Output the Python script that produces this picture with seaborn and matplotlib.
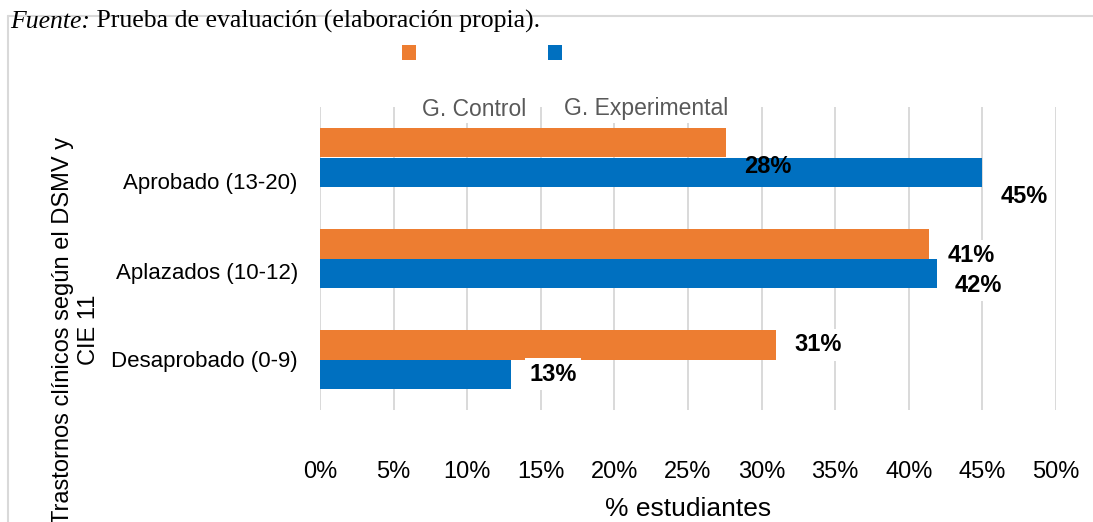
import matplotlib
matplotlib.use("Agg")
import matplotlib.pyplot as plt
from matplotlib.lines import Line2D
from matplotlib.patches import Patch
import seaborn as sns
import pandas as pd
import numpy as np

# ---- data ----
categories = ["Aprobado (13-20)", "Aplazados (10-12)", "Desaprobado (0-9)"]
groups = ["G. Control", "G. Experimental"]
control = [27.6, 41.4, 31.0]
experimental = [45.0, 41.9, 13.0]
x_ticks = [0, 5, 10, 15, 20, 25, 30, 35, 40, 45, 50]
x_tick_labels = [f"{t}%" for t in x_ticks]
x_title = "% estudiantes"
y_title = "Trastornos clínicos según el DSMV y\nCIE 11"
source_italic = "Fuente:"
source_rest = " Prueba de evaluación (elaboración propia)."

# ---- layout / style ----
W, H, DPI = 1093, 522, 100
colors = ["#ED7D31", "#0070C0"]
grid_color = "#D9D9D9"
cat_shift_px = [24, 12, 0]          # vertical displacement of labels per category
label_box = [[False, True], [True, True], [True, True]]

sns.set_style("white")
plt.rcParams["font.family"] = ["Liberation Sans", "DejaVu Sans"]
plt.rcParams["text.color"] = "black"
plt.rcParams["axes.labelcolor"] = "black"
plt.rcParams["xtick.color"] = "black"
plt.rcParams["ytick.color"] = "black"

df = pd.DataFrame({
    "cat": categories * 2,
    "val": control + experimental,
    "grupo": [groups[0]] * 3 + [groups[1]] * 3,
})

fig = plt.figure(figsize=(W / DPI, H / DPI), dpi=DPI)
ax_left, ax_right, ax_top, ax_bottom = 320, 1056, 107, 410
ax = fig.add_axes([ax_left / W, 1 - ax_bottom / H,
                   (ax_right - ax_left) / W, (ax_bottom - ax_top) / H])

sns.barplot(data=df, y="cat", x="val", hue="grupo", orient="h",
            palette=colors, width=0.58, saturation=1, errorbar=None,
            linewidth=0, legend=False, ax=ax, zorder=2)

ax.set_xlim(0, 50)
ax.set_ylim(2.5, -0.5)
ax.set_xticks(x_ticks)
ax.set_xticklabels(x_tick_labels, fontsize=17, color="black")
px_per_unit = (ax_bottom - ax_top) / 3
ax.set_yticks(np.arange(3) + np.array(cat_shift_px) / px_per_unit)
ax.set_yticklabels(categories, fontsize=16, color="black")
ax.tick_params(axis="x", length=0, pad=37)
ax.tick_params(axis="y", length=0, pad=16)
ax.set_xlabel(x_title, fontsize=19, labelpad=10, color="black")
ax.set_ylabel("")
for s in ax.spines.values():
    s.set_visible(False)
ax.grid(axis="x", color=grid_color, linewidth=1.4, zorder=0)
ax.grid(axis="y", visible=False)
ax.set_axisbelow(True)

# data labels
for gi, cont in enumerate(ax.containers):
    for ci, bar in enumerate(cont):
        v = bar.get_width()
        yc = bar.get_y() + bar.get_height() / 2
        kw = {}
        if label_box[ci][gi]:
            kw["bbox"] = dict(boxstyle="square,pad=0.2", fc="white", ec="none")
        ax.annotate(f"{round(v)}%", xy=(bar.get_x() + v, yc),
                    xytext=(18, -cat_shift_px[ci]), textcoords="offset pixels",
                    ha="left", va="center", fontsize=17, fontweight="bold",
                    color="black", zorder=5, **kw)

# legend keys
fs_leg = 16.5
fs_px = fs_leg * DPI / 72
handles = [Patch(facecolor=c, edgecolor="none") for c in colors]
fig.legend(handles=handles, labels=["", ""], ncol=2, loc="center",
           bbox_to_anchor=(482 / W, 1 - 54 / H), frameon=False,
           handlelength=14 / fs_px, handleheight=14 / fs_px,
           handletextpad=0, columnspacing=(146 - 14) / fs_px,
           fontsize=fs_leg, borderpad=0, borderaxespad=0)
legend_label_x = [474, 646]
for lbl, xp in zip(groups, legend_label_x):
    fig.text(xp / W, 1 - 109 / H, lbl, ha="center", va="center",
             fontsize=fs_leg, color="#595959", zorder=6,
             bbox=dict(boxstyle="square,pad=0.12", fc="white", ec="none"))

# y title
fig.text(76 / W, 1 - 330 / H, y_title, rotation=90, ha="center", va="center",
         multialignment="center", fontsize=17, linespacing=1.2, color="black")

# outer frame lines
fig.add_artist(Line2D([8 / W, 1], [1 - 16 / H, 1 - 16 / H],
                      transform=fig.transFigure, color=grid_color, lw=1.5))
fig.add_artist(Line2D([8 / W, 8 / W], [1 - 16 / H, 0],
                      transform=fig.transFigure, color=grid_color, lw=1.5))

# source text
serif = ["Liberation Serif", "DejaVu Serif"]
t1 = fig.text(10 / W, 1 - 28 / H, source_italic, fontstyle="italic",
              family=serif, fontsize=18.5, va="baseline", zorder=7,
              color="black")
fig.canvas.draw()
ext = t1.get_window_extent()
fig.text(ext.x1 / W, 1 - 28 / H, source_rest, family=serif, fontsize=18.5,
         va="baseline", zorder=7, color="black")

fig.savefig("out.png", dpi=DPI)
